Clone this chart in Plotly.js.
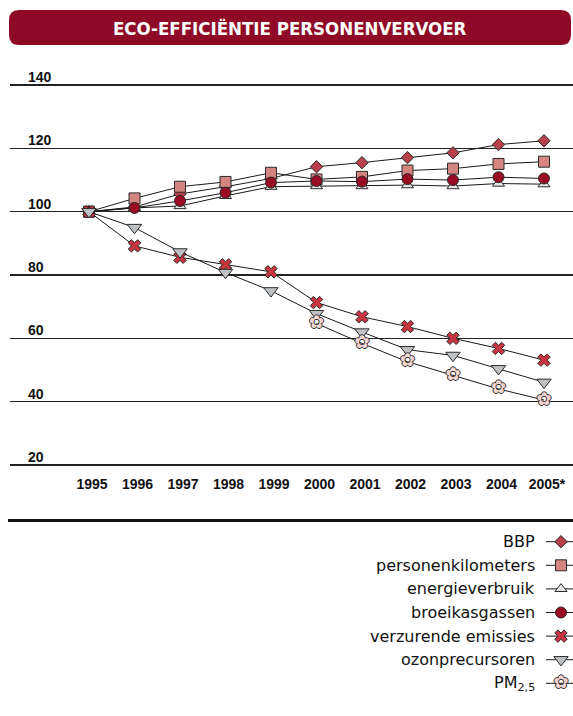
<!DOCTYPE html>
<html>
<head>
<meta charset="utf-8">
<script src="https://cdn.plot.ly/plotly-3.0.1.min.js"></script>
<style>
  html, body { margin: 0; padding: 0; background: #ffffff; }
  #chart { width: 573px; height: 716px; }
</style>
</head>
<body>
<div id="chart"></div>
<script>
// ---------- data ----------
const years = [1995, 1996, 1997, 1998, 1999, 2000, 2001, 2002, 2003, 2004, 2005];
const yearLabels = ["1995", "1996", "1997", "1998", "1999", "2000", "2001", "2002", "2003", "2004", "2005*"];
const yTicks = [20, 40, 60, 80, 100, 120, 140];
const chartTitle = "ECO-EFFICIËNTIE PERSONENVERVOER";

const seriesNames = ["BBP", "personenkilometers", "energieverbruik", "broeikasgassen",
                     "verzurende emissies", "ozonprecursoren", "PM<sub>2,5</sub>"];

const bbp               = [100, 101.5, 105.6, 107.9, 110.5, 114.2, 115.5, 117.1, 118.6, 121.2, 122.4];
const personenkm        = [100, 104.2, 107.9, 109.4, 112.3, 110.2, 111.0, 113.0, 113.6, 115.1, 115.8];
const energieverbruik   = [100, 101.2, 101.8, 105.0, 107.9, 108.1, 108.1, 108.4, 108.1, 108.9, 108.7];
const broeikasgassen    = [100, 101.2, 103.4, 106.0, 109.2, 109.7, 109.5, 110.3, 110.0, 110.9, 110.5];
const verzurend         = [100, 89.2, 85.6, 83.2, 81.0, 71.3, 66.8, 63.7, 60.0, 56.8, 53.1];
const ozonprecursoren   = [100, 95.0, 87.3, 80.8, 75.0, 67.8, 62.0, 56.4, 54.6, 50.4, 46.1];
const pm25              = [null, null, null, null, null, 64.7, 58.4, 52.6, 48.2, 44.0, 40.5];

const seriesValues = [bbp, personenkm, energieverbruik, broeikasgassen, verzurend, ozonprecursoren, pm25];

// ---------- styles ----------
const outline = "#2a2a2a";
const styles = [
  { symbol: "diamond",       size: 9.5, color: "#b8404a" },
  { symbol: "square",        size: 11,  color: "#d4857f" },
  { symbol: "triangle-up",   size: 10.5,color: "#e6e6e6" },
  { symbol: "circle",        size: 11,  color: "#9a0b24" },
  { symbol: "x",             size: 11,  color: "#c8343f" },
  { symbol: "triangle-down", size: 12.5,color: "#bec2c5" },
  { flower: true,            size: 18,  color: "#f5d6d3" }
];
const numFont = { family: "Liberation Sans, Arial, sans-serif", size: 14, color: "#111111", weight: "bold" };

// ---------- geometry helpers ----------
const W = 573, H = 716;
const M = { l: 10, r: 0, t: 60, b: 20 };
const plotH = H - M.t - M.b;
const pyToPaper = py => (H - M.b - py) / plotH;
const pxToPaper = px => (px - M.l) / (W - M.l - M.r);
const mainDomain = [pyToPaper(470), 1];
const legendDomain = [0, pyToPaper(530)];
const legTop = 541.7, legStep = 23.6;
const legRange = [(696 - legTop) / legStep, (530 - legTop) / legStep];

const flowerChar = "\u273F";
const flowerShadow = "1px 0 0 #333, -1px 0 0 #333, 0 1px 0 #333, 0 -1px 0 #333";

// ---------- traces ----------
const traces = [];
seriesValues.forEach((vals, i) => {
  const st = styles[i];
  if (st.flower) {
    const idx = vals.map((v, k) => k).filter(k => vals[k] !== null);
    traces.push({
      x: idx.map(k => years[k]), y: idx.map(k => vals[k]), type: "scatter", mode: "lines+text",
      text: idx.map(() => flowerChar),
      textposition: "middle center",
      textfont: { family: "DejaVu Sans", size: st.size, color: st.color, shadow: flowerShadow },
      line: { color: "#1a1a1a", width: 1 },
      hoverinfo: "skip", showlegend: false, cliponaxis: false
    });
  } else {
    traces.push({
      x: years, y: vals, type: "scatter", mode: "lines+markers",
      line: { color: "#1a1a1a", width: 1 },
      marker: { symbol: st.symbol, size: st.size, color: st.color, line: { color: outline, width: 1 } },
      hoverinfo: "skip", showlegend: false, cliponaxis: false
    });
  }
});

// custom legend (symbol to the right of the label)
const keyX = [546, 561, 573];
seriesNames.forEach((name, i) => {
  const st = styles[i];
  traces.push({
    x: keyX, y: [i, i, i], xaxis: "x2", yaxis: "y2", type: "scatter",
    mode: "lines", line: { color: "#1a1a1a", width: 1 },
    hoverinfo: "skip", showlegend: false, cliponaxis: false
  });
  if (st.flower) {
    traces.push({
      x: [keyX[1]], y: [i], xaxis: "x2", yaxis: "y2", type: "scatter", mode: "text",
      text: [flowerChar], textposition: "middle center",
      textfont: { family: "DejaVu Sans", size: st.size, color: st.color, shadow: flowerShadow },
      hoverinfo: "skip", showlegend: false, cliponaxis: false
    });
  } else {
    traces.push({
      x: [keyX[1]], y: [i], xaxis: "x2", yaxis: "y2", type: "scatter", mode: "markers",
      marker: { symbol: st.symbol, size: st.size, color: st.color, line: { color: outline, width: 1 } },
      hoverinfo: "skip", showlegend: false, cliponaxis: false
    });
  }
});

// ---------- annotations ----------
const annotations = [];
annotations.push({
  text: chartTitle, xref: "paper", yref: "paper",
  x: pxToPaper(290), y: pyToPaper(28), xanchor: "center", yanchor: "middle",
  showarrow: false,
  font: { family: "DejaVu Sans Condensed, sans-serif", size: 18.5, color: "#ffffff", weight: "bold" }
});
yTicks.forEach(v => {
  annotations.push({
    text: String(v), xref: "x2", yref: "y", x: 26, y: v,
    xanchor: "left", yanchor: "bottom", showarrow: false, yshift: -2,
    font: numFont
  });
});
seriesNames.forEach((name, i) => {
  annotations.push({
    text: name, xref: "x2", yref: "y2", x: 537, y: i,
    xanchor: "right", yanchor: "middle", showarrow: false,
    font: { family: "DejaVu Sans, sans-serif", size: 16, color: "#111111" }
  });
});

// ---------- shapes ----------
function roundRectPath(x0, y0, x1, y1, r) {
  const X = pxToPaper, Y = pyToPaper;
  return "M" + X(x0 + r) + "," + Y(y0) +
    " L" + X(x1 - r) + "," + Y(y0) +
    " Q" + X(x1) + "," + Y(y0) + " " + X(x1) + "," + Y(y0 + r) +
    " L" + X(x1) + "," + Y(y1 - r) +
    " Q" + X(x1) + "," + Y(y1) + " " + X(x1 - r) + "," + Y(y1) +
    " L" + X(x0 + r) + "," + Y(y1) +
    " Q" + X(x0) + "," + Y(y1) + " " + X(x0) + "," + Y(y1 - r) +
    " L" + X(x0) + "," + Y(y0 + r) +
    " Q" + X(x0) + "," + Y(y0) + " " + X(x0 + r) + "," + Y(y0) + " Z";
}
const shapes = [
  { type: "path", xref: "paper", yref: "paper", path: roundRectPath(9, 10, 571, 45, 10),
    fillcolor: "#8e0a26", line: { width: 0 }, layer: "below" },
  { type: "line", xref: "paper", yref: "paper",
    x0: pxToPaper(8), x1: pxToPaper(573), y0: pyToPaper(520.5), y1: pyToPaper(520.5),
    line: { color: "#111111", width: 3 } }
];

// ---------- layout ----------
const layout = {
  width: W, height: H, margin: M,
  paper_bgcolor: "#ffffff", plot_bgcolor: "rgba(0,0,0,0)",
  showlegend: false,
  xaxis: {
    domain: [0, 1], anchor: "y",
    range: [1995 - 79 / 45.5, 2005 + 29 / 45.5],
    tickmode: "array", tickvals: years, ticktext: yearLabels,
    showgrid: false, zeroline: false, showline: false, ticks: "",
    ticklabelshift: 3, ticklabelstandoff: 4,
    tickfont: numFont,
    fixedrange: true
  },
  yaxis: {
    domain: mainDomain, anchor: "x",
    range: [100 - (470 - 211.7) / 3.165, 100 + (211.7 - 60) / 3.165],
    tickmode: "array", tickvals: yTicks, showticklabels: false,
    showgrid: true, gridcolor: "#222222", gridwidth: 1.3,
    zeroline: false, showline: false, ticks: "", fixedrange: true
  },
  xaxis2: { domain: [0, 1], anchor: "y2", range: [10, 573], visible: false, fixedrange: true },
  yaxis2: { domain: legendDomain, anchor: "x2", range: legRange, visible: false, fixedrange: true },
  annotations: annotations,
  shapes: shapes,
  hovermode: false
};

Plotly.newPlot("chart", traces, layout, { staticPlot: true, displayModeBar: false });
</script>
</body>
</html>
